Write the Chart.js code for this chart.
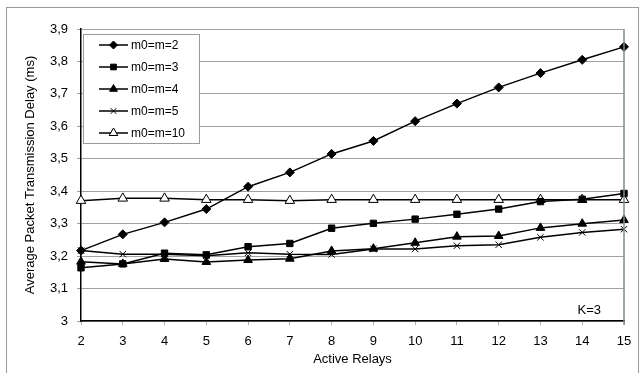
<!DOCTYPE html>
<html>
<head>
<meta charset="utf-8">
<script src="https://cdn.jsdelivr.net/npm/chart.js@4.4.1/dist/chart.umd.min.js"></script>
<style>
  html, body { margin: 0; padding: 0; background: #fff; }
</style>
</head>
<body>
<canvas id="delayChart" width="644" height="373"></canvas>
<script>
// values
const relays = ['2', '3', '4', '5', '6', '7', '8', '9', '10', '11', '12', '13', '14', '15'];
const m2  = [3.217, 3.267, 3.304, 3.345, 3.414, 3.458, 3.515, 3.555, 3.616, 3.67, 3.72, 3.764, 3.805, 3.845];
const m3  = [3.164, 3.176, 3.209, 3.204, 3.229, 3.239, 3.286, 3.301, 3.314, 3.329, 3.345, 3.368, 3.375, 3.393];
const m4  = [3.183, 3.176, 3.191, 3.182, 3.188, 3.192, 3.216, 3.223, 3.241, 3.260, 3.262, 3.287, 3.300, 3.311];
const m5  = [3.217, 3.206, 3.206, 3.201, 3.210, 3.206, 3.205, 3.222, 3.222, 3.232, 3.235, 3.258, 3.273, 3.283];
const m10 = [3.371, 3.378, 3.378, 3.374, 3.374, 3.371, 3.374, 3.374, 3.374, 3.374, 3.374, 3.374, 3.374, 3.374];
const yTickLabels = ['3', '3,1', '3,2', '3,3', '3,4', '3,5', '3,6', '3,7', '3,8', '3,9'];

const FONT = 'Liberation Sans, Arial, sans-serif';

function series(label, data, style, radius, fill) {
    return {
        label: label,
        data: data,
        borderColor: '#000',
        borderWidth: 1.5,
        pointStyle: style,
        pointRadius: radius,
        pointBackgroundColor: fill,
        pointBorderColor: '#000',
        pointBorderWidth: 1,
        tension: 0
    };
}

// frame, right border of plot, legend box and K=3 note
const extras = {
    id: 'extras',
    beforeDraw(chart) {
        const c = chart.ctx;
        c.save();
        c.fillStyle = '#fff';
        c.fillRect(0, 0, chart.width, chart.height);
        c.strokeStyle = '#9a9a9a';
        c.lineWidth = 1;
        c.strokeRect(6.5, 7.5, 632, 380);
        c.restore();
    },
    afterDraw(chart) {
        const c = chart.ctx;
        const a = chart.chartArea;
        c.save();
        c.strokeStyle = '#7f8c8c';
        c.lineWidth = 1.5;
        c.beginPath();
        c.moveTo(a.right, a.top);
        c.lineTo(a.right, a.bottom + 4);
        c.stroke();

        // legend
        c.fillStyle = '#fff';
        c.fillRect(83, 34, 116, 109);
        c.strokeStyle = '#9a9a9a';
        c.lineWidth = 1;
        c.strokeRect(83.5, 34.5, 116, 109);
        chart.data.datasets.forEach((ds, i) => {
            const y = 45 + i * 22;
            c.strokeStyle = '#000';
            c.lineWidth = 1.5;
            c.beginPath();
            c.moveTo(99, y);
            c.lineTo(128, y);
            c.stroke();
            c.fillStyle = ds.pointBackgroundColor;
            c.lineWidth = 1;
            Chart.helpers.drawPoint(c, {pointStyle: ds.pointStyle, radius: ds.pointRadius - 0.5, rotation: 0, borderWidth: 1}, 113.5, y);
            c.fillStyle = '#000';
            c.font = '12px ' + FONT;
            c.textBaseline = 'middle';
            c.textAlign = 'left';
            c.fillText(ds.label, 131, y + 0.5);
        });

        c.font = '13px ' + FONT;
        c.fillStyle = '#000';
        c.textAlign = 'right';
        c.textBaseline = 'middle';
        c.fillText('K=3', 601, 310);
        c.restore();
    }
};

const ctx = document.getElementById('delayChart').getContext('2d');
const delayChart = new Chart(ctx, {
    type: 'line',
    data: {
        labels: relays,
        datasets: [
            series('m0=m=2', m2, 'rectRot', 4.5, '#000'),
            series('m0=m=3', m3, 'rect', 4.5, '#000'),
            series('m0=m=4', m4, 'triangle', 5, '#000'),
            series('m0=m=5', m5, 'crossRot', 4.5, '#000'),
            series('m0=m=10', m10, 'triangle', 5.5, '#fff')
        ]
    },
    options: {
        responsive: false,
        animation: false,
        layout: { padding: { top: 29, right: 20, left: 0, bottom: 0 } },
        plugins: {
            legend: { display: false },
            tooltip: { enabled: false }
        },
        scales: {
            x: {
                offset: false,
                grid: { drawOnChartArea: false, tickLength: 4, color: '#b0b0b0' },
                border: { color: '#000', width: 1.5 },
                ticks: { color: '#000', font: { family: FONT, size: 13 }, padding: 9, maxRotation: 0 },
                title: { display: true, text: 'Active Relays', color: '#000', font: { family: FONT, size: 13 }, padding: { top: 0, bottom: 6 } },
                afterFit(scale) { scale.height = 52; }
            },
            y: {
                min: 3,
                max: 3.9,
                grid: { color: '#a0a0a0', tickLength: 4, lineWidth: 1 },
                border: { color: '#000', width: 1.5 },
                ticks: {
                    stepSize: 0.1,
                    color: '#000',
                    padding: 9,
                    font: { family: FONT, size: 13 },
                    callback: (v) => yTickLabels[Math.round((v - 3) * 10)]
                },
                title: { display: true, text: 'Average Packet Transmission Delay (ms)', color: '#000', font: { family: FONT, size: 13 }, padding: { top: 23, bottom: 0 } },
                afterFit(scale) { scale.width = 81; }
            }
        }
    },
    plugins: [extras]
});
</script>
</body>
</html>
